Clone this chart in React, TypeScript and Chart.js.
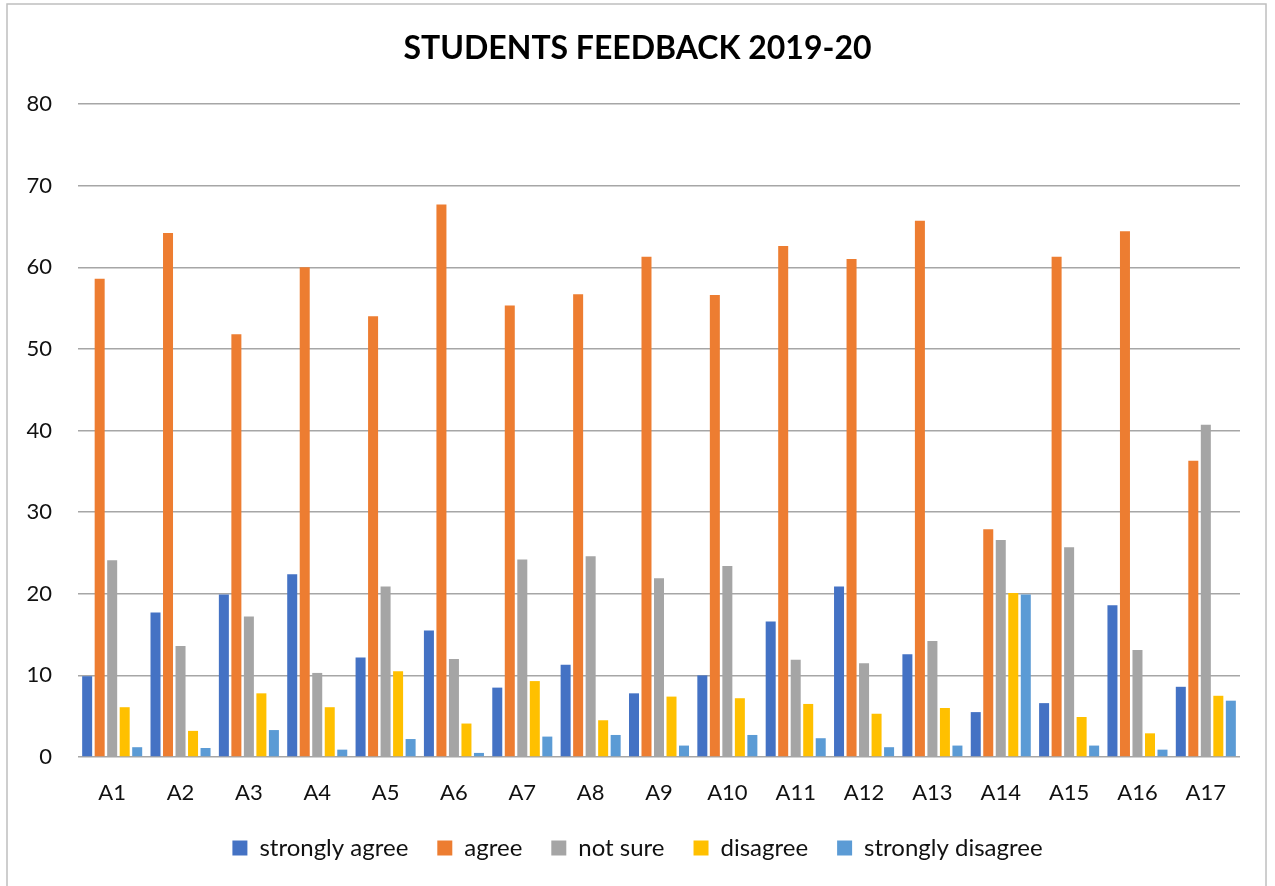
import React, { useEffect, useRef } from "react";
import { Chart, registerables } from "chart.js";

Chart.register(...registerables);

const categories = ["A1","A2","A3","A4","A5","A6","A7","A8","A9","A10","A11","A12","A13","A14","A15","A16","A17"];
const stronglyAgree = [9.9, 17.7, 19.9, 22.4, 12.2, 15.5, 8.5, 11.3, 7.8, 10.0, 16.6, 20.9, 12.6, 5.5, 6.6, 18.6, 8.6];
const agree = [58.6, 64.2, 51.8, 60.0, 54.0, 67.7, 55.3, 56.7, 61.3, 56.6, 62.6, 61.0, 65.7, 27.9, 61.3, 64.4, 36.3];
const notSure = [24.1, 13.6, 17.2, 10.3, 20.9, 12.0, 24.2, 24.6, 21.9, 23.4, 11.9, 11.5, 14.2, 26.6, 25.7, 13.1, 40.7];
const disagree = [6.1, 3.2, 7.8, 6.1, 10.5, 4.1, 9.3, 4.5, 7.4, 7.2, 6.5, 5.3, 6.0, 20.1, 4.9, 2.9, 7.5];
const stronglyDisagree = [1.2, 1.1, 3.3, 0.9, 2.2, 0.5, 2.5, 2.7, 1.4, 2.7, 2.3, 1.2, 1.4, 19.9, 1.4, 0.9, 6.9];
const seriesNames = ["strongly agree", "agree", "not sure", "disagree", "strongly disagree"];
const seriesColors = ["#4472C4", "#ED7D31", "#A5A5A5", "#FFC000", "#5B9BD5"];
const yMin = 0;
const yMax = 80;
const yStep = 10;

const FONT = "Lato, 'Open Sans', sans-serif";

const borderPlugin = {
  id: "outerBorder",
  beforeDraw(chart: any) {
    const ctx = chart.ctx;
    ctx.save();
    ctx.fillStyle = "#ffffff";
    ctx.fillRect(0, 0, chart.width, chart.height);
    ctx.strokeStyle = "#bfbfbf";
    ctx.lineWidth = 1.5;
    ctx.strokeRect(7, 4, 1259, 900);
    ctx.restore();
  },
};

export default function App() {
  const ref = useRef<HTMLCanvasElement | null>(null);
  useEffect(() => {
    if (!ref.current) return;
    const data = [stronglyAgree, agree, notSure, disagree, stronglyDisagree];
    const chart = new Chart(ref.current, {
      type: "bar",
      data: {
        labels: categories,
        datasets: data.map((d, i) => ({
          label: seriesNames[i],
          data: d,
          backgroundColor: seriesColors[i],
          borderWidth: 0,
          categoryPercentage: 0.915,
          barPercentage: 0.8,
        })),
      },
      options: {
        animation: false,
        responsive: false,
        maintainAspectRatio: false,
        layout: { padding: { left: 0, right: 0, top: 0, bottom: 16 } },
        plugins: {
          title: {
            display: true,
            text: "STUDENTS FEEDBACK 2019-20",
            color: "#000",
            font: { family: FONT, size: 32, weight: "bold" },
            padding: { top: 29, bottom: 36.6 },
          },
          legend: {
            position: "bottom",
            labels: {
              color: "#111",
              font: { family: FONT, size: 24 },
              boxWidth: 15,
              boxHeight: 15,
              padding: 29,
            },
          },
          tooltip: { enabled: false },
        },
        scales: {
          x: {
            grid: { display: false, drawTicks: false },
            border: { display: false },
            ticks: { color: "#111", font: { family: FONT, size: 22 }, padding: 23 },
            afterFit: (scale: any) => {
              scale.height = 50;
            },
          },
          y: {
            min: yMin,
            max: yMax,
            ticks: { stepSize: yStep, color: "#111", font: { family: FONT, size: 22 }, padding: 26 },
            grid: { color: "#a6a6a6", lineWidth: 1.5, drawTicks: false },
            border: { display: false },
            afterFit: (scale: any) => {
              scale.width = 78;
            },
          },
          yRight: {
            position: "right",
            display: true,
            min: yMin,
            max: yMax,
            grid: { display: false, drawTicks: false },
            border: { display: false },
            ticks: { display: false },
            afterFit: (scale: any) => {
              scale.width = 35;
            },
          },
        },
      },
      plugins: [borderPlugin],
    });
    return () => chart.destroy();
  }, []);
  return (
    <div style={{ position: "absolute", left: 0, top: 0, width: 1275, height: 886 }}>
      <canvas ref={ref} width={1275} height={886} style={{ display: "block" }} />
    </div>
  );
}
